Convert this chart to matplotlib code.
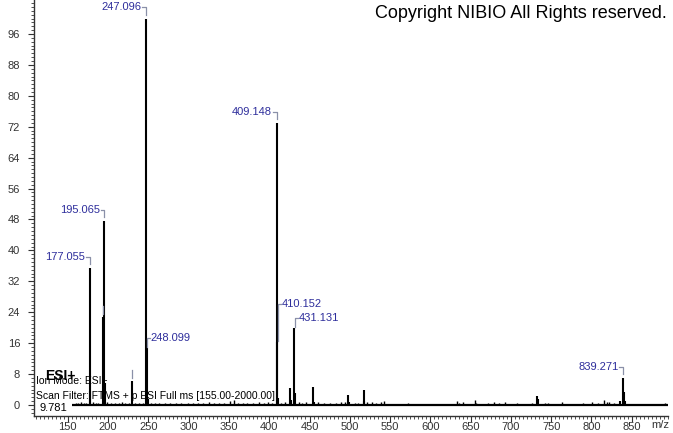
import matplotlib.pyplot as plt
from matplotlib.ticker import MultipleLocator
from matplotlib.transforms import blended_transform_factory

plt.rcParams['font.family'] = ['Liberation Sans', 'DejaVu Sans']

# main ions of the spectrum (m/z, relative abundance %)
peak_mz = [177.055, 178.058, 193.05, 195.065, 196.068, 229.09, 247.096, 248.099,
           249.10, 409.148, 410.152, 411.15, 426.1, 427.1, 431.131, 432.13,
           454.1, 455.1, 498.1, 499.1, 517.1, 518.1, 732.9, 734.0,
           835.5, 839.271, 840.27, 841.28]
peak_int = [35.4, 3.5, 22.8, 47.6, 5.8, 6.2, 100.0, 14.7,
            1.5, 73.0, 16.3, 1.8, 4.5, 1.3, 19.9, 3.0,
            4.6, 0.8, 2.6, 0.8, 3.8, 1.0, 2.4, 1.6,
            1.0, 7.0, 3.3, 1.0]

# small background ions
noise_mz = [160, 163, 166, 170, 173, 181, 185, 188, 199, 203, 208, 213, 217, 221,
            226, 233, 238, 243, 253, 258, 263, 271, 277, 284, 291, 299, 305, 312,
            318, 325, 332, 338, 344, 351, 356, 361, 367, 373, 380, 387, 393, 399,
            404, 414, 420, 437, 441, 446, 460, 468, 476, 483, 489, 494, 506, 510,
            521, 527, 533, 539, 543, 572, 633, 635, 641, 655, 657, 671, 679, 685,
            693, 708, 726, 742, 746, 764, 790, 801, 808, 816, 819, 822, 828, 891]
noise_int = [0.6, 0.5, 0.8, 0.6, 0.5, 0.7, 0.5, 0.6, 0.8, 0.4, 0.6, 0.5, 0.7, 0.4,
             0.6, 0.5, 0.6, 0.5, 0.6, 0.4, 0.5, 0.4, 0.6, 0.5, 0.4, 0.5, 0.6, 0.4,
             0.5, 0.7, 0.4, 0.6, 0.5, 1.0, 1.3, 0.5, 0.4, 0.6, 0.5, 0.7, 0.5, 0.8,
             0.5, 0.6, 0.8, 0.8, 0.6, 0.9, 0.8, 0.5, 0.4, 0.6, 0.7, 0.9, 0.6, 0.5,
             0.8, 0.9, 0.6, 0.9, 1.1, 0.6, 1.0, 0.6, 0.7, 1.3, 0.5, 0.5, 0.7, 0.6,
             0.7, 0.4, 0.5, 0.4, 0.6, 0.7, 0.4, 0.9, 0.6, 1.2, 0.9, 0.7, 0.4, 0.5]

# labelled peaks
label_mz = [177.055, 195.065, 247.096, 248.099, 409.148, 410.152, 431.131, 839.271]
label_int = [35.4, 47.6, 100.0, 14.7, 73.0, 16.3, 19.9, 7.0]
# peaks with a marker but no text
marked_mz = [193.05, 229.09]
marked_int = [22.8, 6.2]

scan_range = (155, 895)

# which side the label sits, and how far the bracket rises (in % units)
label_side = {248.099: ("r", 2.6), 410.152: ("r", 9.8), 431.131: ("r", 2.6)}

fig = plt.figure(figsize=(6.73, 4.33), dpi=100)
ax = fig.add_axes([34 / 673, 17 / 433, 634 / 673, 416 / 433])

ax.hlines(0, scan_range[0], scan_range[1], color="black", linewidth=1.6, zorder=3)
ax.vlines(noise_mz, 0, noise_int, color="black", linewidth=1.0, zorder=3)
ax.vlines(peak_mz, 0, peak_int, color="black", linewidth=1.5, zorder=3)

lab_col = "#2e2e9c"
br_col = "#8a90a8"
for mz, h in zip(label_mz, label_int):
    txt = f"{mz:.3f}"
    side, rise = label_side.get(mz, ("l", 0))
    if side == "l":
        y0 = h + 1.0
        y1 = h + 2.9
        ax.plot([mz, mz, mz - 4.5], [y0, y1, y1], color=br_col, lw=0.9, zorder=4)
        ax.text(mz - 5.5, y1, txt, ha="right", va="center", color=lab_col, fontsize=8)
    else:
        y0 = h + 0.2
        y1 = h + rise
        ax.plot([mz + 0.6, mz + 0.6, mz + 4.0], [y0, y1, y1], color=br_col, lw=0.9, zorder=4)
        ax.text(mz + 5.0, y1, txt, ha="left", va="center", color=lab_col, fontsize=8)

for mz, h in zip(marked_mz, marked_int):
    ax.plot([mz, mz], [h + 0.8, h + 2.8], color=br_col, lw=0.9, zorder=4)

ax.set_xlim(108, 895)
ax.set_ylim(-2.85, 104.8)
ax.xaxis.set_minor_locator(MultipleLocator(5))
ax.yaxis.set_minor_locator(MultipleLocator(1))
ax.set_xticks(range(150, 851, 50))
ax.set_yticks(range(0, 97, 8))

for s in ["top", "right"]:
    ax.spines[s].set_visible(False)
for s in ["left", "bottom"]:
    ax.spines[s].set_color("#333333")
    ax.spines[s].set_linewidth(1.0)

ax.tick_params(axis="both", which="major", length=4, width=0.8, color="#333333",
               labelsize=8, labelcolor="#333333")
ax.tick_params(axis="both", which="minor", length=2.5, width=0.6, color="#333333")
ax.tick_params(axis="y", pad=6)
ax.tick_params(axis="x", pad=0.5)

trans = blended_transform_factory(ax.transData, ax.transAxes)
ax.text(885, -0.022, "m/z", transform=trans, ha="center", va="center",
        fontsize=8, color="#333333")

# scan header text
ax.text(0.018, 0.096, "ESI+", transform=ax.transAxes, fontsize=10, fontweight="bold",
        ha="left", va="center", zorder=1)
ax.text(0.003, 0.084, "Ion Mode: ESI+", transform=ax.transAxes, fontsize=7.5,
        ha="left", va="center", zorder=1)
ax.text(0.003, 0.048, "Scan Filter: FTMS + p ESI Full ms [155.00-2000.00]",
        transform=ax.transAxes, fontsize=7.5, ha="left", va="center", zorder=1)
ax.text(0.008, 0.019, "9.781", transform=ax.transAxes, fontsize=8,
        ha="left", va="center", zorder=1)

fig.text(667 / 673, 1 - 14 / 433, "Copyright NIBIO All Rights reserved.",
         ha="right", va="center", fontsize=13, color="black")

fig.savefig("out.png", dpi=100)
